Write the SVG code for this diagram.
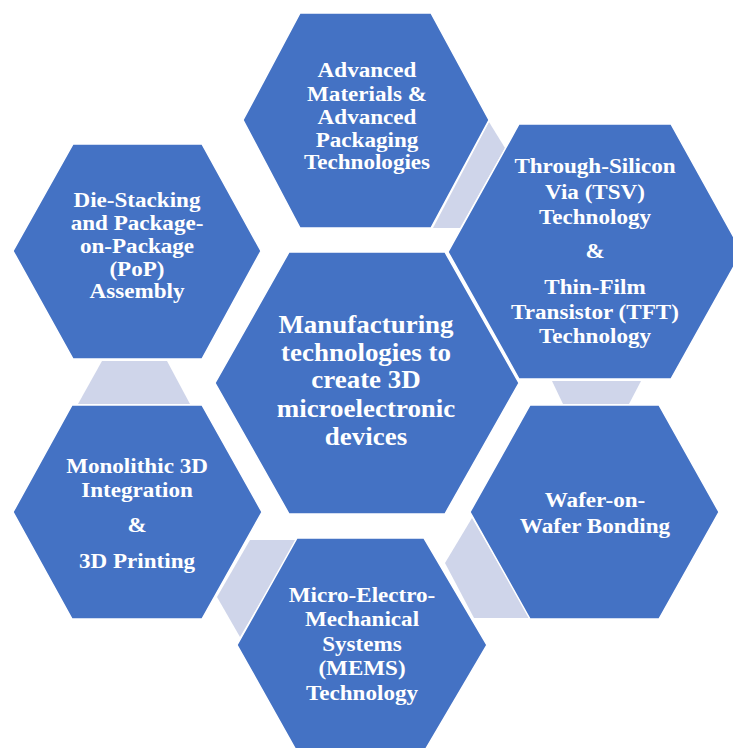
<svg xmlns="http://www.w3.org/2000/svg" width="733" height="748" viewBox="0 0 733 748">
<style>
.hex{fill:#4472C4;stroke:#FFFFFF;stroke-width:1.5;stroke-linejoin:miter}
.con{fill:#CFD5EA;stroke:none}
.t{fill:#FFFFFF;font-family:"Liberation Serif","Times New Roman",serif;font-weight:bold;font-size:21px;text-anchor:middle}
.tc{font-size:24.5px}
</style>
<rect width="733" height="748" fill="#FFFFFF"/>
<g id="connectors">
<polygon class="con" points="489,122 505,148 460,228 433,228"/>
<polygon class="con" points="552,381 641,381 629,404 563,404"/>
<polygon class="con" points="472,518 445,563 474,618 530,618"/>
<polygon class="con" points="250,540 297,540 240,637 217,597"/>
<polygon class="con" points="102,361 167,361 190,404 78,404"/>
</g>
<g id="center">
<polygon class="hex" points="215,383 289,252 445,252 519,383 445,514 289,514"/>
<g transform="translate(366,0) scale(1.1,1)">
<text class="t tc" x="0" y="333">Manufacturing</text>
<text class="t tc" x="0" y="361">technologies to</text>
<text class="t tc" x="0" y="388">create 3D</text>
<text class="t tc" x="0" y="417">microelectronic</text>
<text class="t tc" x="0" y="445">devices</text>
</g>
</g>
<g id="advanced-materials">
<polygon class="hex" points="243,120 300,13 431,13 489,120 431,228 300,228"/>
<g transform="translate(367,0) scale(1.1,1)">
<text class="t" x="0" y="77">Advanced</text>
<text class="t" x="0" y="101">Materials &amp;</text>
<text class="t" x="0" y="124">Advanced</text>
<text class="t" x="0" y="147">Packaging</text>
<text class="t" x="0" y="169">Technologies</text>
</g>
</g>
<g id="tsv-tft">
<polygon class="hex" points="448,252 519,124 671,124 742,252 671,379 519,379"/>
<g transform="translate(595,0) scale(1.1,1)">
<text class="t" x="0" y="173">Through-Silicon</text>
<text class="t" x="0" y="199">Via (TSV)</text>
<text class="t" x="0" y="224">Technology</text>
<text class="t" x="0" y="258">&amp;</text>
<text class="t" x="0" y="294">Thin-Film</text>
<text class="t" x="0" y="319">Transistor (TFT)</text>
<text class="t" x="0" y="343">Technology</text>
</g>
</g>
<g id="die-stacking">
<polygon class="hex" points="13,251 73,144 202,144 261,251 202,359 73,359"/>
<g transform="translate(137,0) scale(1.1,1)">
<text class="t" x="0" y="207">Die-Stacking</text>
<text class="t" x="0" y="230">and Package-</text>
<text class="t" x="0" y="253">on-Package</text>
<text class="t" x="0" y="276">(PoP)</text>
<text class="t" x="0" y="298">Assembly</text>
</g>
</g>
<g id="monolithic">
<polygon class="hex" points="13,512 72,405 202,405 262,512 202,619 72,619"/>
<g transform="translate(137,0) scale(1.1,1)">
<text class="t" x="0" y="473">Monolithic 3D</text>
<text class="t" x="0" y="497">Integration</text>
<text class="t" x="0" y="532">&amp;</text>
<text class="t" x="0" y="568">3D Printing</text>
</g>
</g>
<g id="wafer-bonding">
<polygon class="hex" points="470,512 530,405 659,405 719,512 659,619 530,619"/>
<g transform="translate(595,0) scale(1.1,1)">
<text class="t" x="0" y="507">Wafer-on-</text>
<text class="t" x="0" y="533">Wafer Bonding</text>
</g>
</g>
<g id="mems">
<polygon class="hex" points="237,645 297,538 424,538 487,645 424,752 297,752"/>
<g transform="translate(362,0) scale(1.1,1)">
<text class="t" x="0" y="602">Micro-Electro-</text>
<text class="t" x="0" y="626">Mechanical</text>
<text class="t" x="0" y="651">Systems</text>
<text class="t" x="0" y="675">(MEMS)</text>
<text class="t" x="0" y="700">Technology</text>
</g>
</g>
</svg>
